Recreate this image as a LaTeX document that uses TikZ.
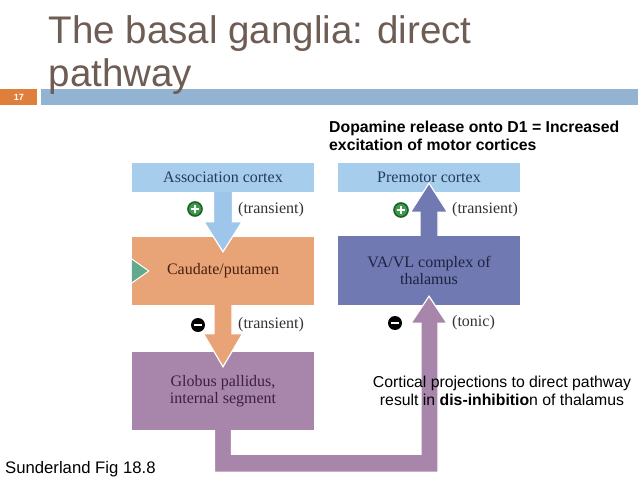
\documentclass[tikz,border=0pt]{standalone}
\usepackage{fontspec}
\newfontfamily\arial{Liberation Sans}
\newfontfamily\serifdia{Liberation Serif}
\usetikzlibrary{calc}
\definecolor{titlecol}{HTML}{6E5D54}
\definecolor{barblue}{HTML}{92B4D2}
\definecolor{barorange}{HTML}{E07E3C}
\definecolor{boxblue}{HTML}{A6CDEB}
\definecolor{arrblue}{HTML}{9DC6EA}
\definecolor{boxorange}{HTML}{E8A476}
\definecolor{boxslate}{HTML}{7179B2}
\definecolor{boxpurple}{HTML}{A885AA}
\definecolor{triteal}{HTML}{62A98D}
\definecolor{txtnavy}{HTML}{263A5C}
\definecolor{txtbrown}{HTML}{4A1E10}
\definecolor{txtslate}{HTML}{1C2240}
\definecolor{txtpurple}{HTML}{3B1F45}
\definecolor{plusfill}{HTML}{3E9A4A}
\definecolor{plusring}{HTML}{1F5F28}
\begin{document}
\begin{tikzpicture}[x=1pt,y=-1pt,
  box/.style={rectangle, inner sep=0pt, minimum width=182pt, align=center,
    font=\serifdia\fontsize{16}{16.5}\selectfont},
  lbl/.style={inner sep=0pt, anchor=west, text=black!80, font=\serifdia\fontsize{16}{16.5}\selectfont},
  arrowbody/.style={draw=white, line width=1.2pt, line join=miter},
  plusicon/.style={circle, fill=plusfill, draw=plusring, line width=1.6pt, minimum size=14pt, inner sep=0pt},
  minusicon/.style={circle, fill=black, minimum size=14pt, inner sep=0pt},
  sans/.style={inner sep=0pt, font=\arial\fontsize{15.8}{18}\selectfont}
]
\useasboundingbox (0,0) rectangle (638,479);
\fill[white] (0,0) rectangle (638,479);

% header
\fill[barblue] (41,89) rectangle (638,105);
\fill[barorange] (0,89) rectangle (37,105);
\node[inner sep=0pt, text=white, font=\arial\bfseries\fontsize{9}{10}\selectfont] (num) at (19,97.5) {17};
\node[inner sep=0pt, anchor=base west, text=titlecol, font=\arial\fontsize{38.5}{43}\selectfont] (t1) at (48.5,43) {The basal ganglia: direct};
\node[inner sep=0pt, anchor=base west, text=titlecol, font=\arial\fontsize{38.5}{43}\selectfont] (t2) at (48.5,86) {pathway};

\node[sans, anchor=base west, font=\arial\bfseries\fontsize{15.8}{18}\selectfont] (sub1) at (329,132.5) {Dopamine release onto D1 = Increased};
\node[sans, anchor=base west, font=\arial\bfseries\fontsize{15.8}{18}\selectfont] (sub2) at (329,150.5) {excitation of motor cortices};

% boxes
\node[box, fill=boxblue, minimum height=29pt, text=txtnavy] (assoc) at (223,177.5) {Association cortex};
\node[box, fill=boxblue, minimum height=29pt, text=txtnavy] (premot) at (429,177.5) {Premotor cortex};
\node[box, fill=boxorange, minimum height=68pt, text=txtbrown] (caud) at (223,271) {Caudate/putamen};
\node[box, fill=boxslate, minimum height=69pt, text=txtslate] (vavl) at (429,270.5) {VA/VL complex of\\thalamus};
\node[box, fill=boxpurple, minimum height=78pt, text=txtpurple] (gp) at (223,391) {Globus pallidus,\\internal segment};

% green triangle at caudate
\filldraw[fill=triteal, draw=white, line width=1pt] ($(caud.west)+(0,-12)$) -- ($(caud.west)+(17,0)$) -- ($(caud.west)+(0,12)$);

% arrow association -> caudate
\path[fill=arrblue, arrowbody]
  ($(assoc.south)+(-9.5,0)$) -- ($(caud.north)+(-9.5,-15)$) -- ($(caud.north)+(-19,-15)$)
  -- ($(caud.north)+(0,15)$) -- ($(caud.north)+(19,-15)$) -- ($(caud.north)+(9.5,-15)$)
  -- ($(assoc.south)+(9.5,0)$);
% arrow caudate -> GP
\path[fill=boxorange, arrowbody]
  ($(caud.south)+(-9,0)$) -- ($(gp.north)+(-9,-18)$) -- ($(gp.north)+(-19.5,-18)$)
  -- ($(gp.north)+(0,15)$) -- ($(gp.north)+(19.5,-18)$) -- ($(gp.north)+(9,-18)$)
  -- ($(caud.south)+(9,0)$);
% arrow VA/VL -> premotor
\path[fill=boxslate, arrowbody]
  ($(vavl.north)+(-9,0)$) -- ($(premot.south)+(-9,20)$) -- ($(premot.south)+(-18.5,20)$)
  -- ($(premot.south)+(0,-9)$) -- ($(premot.south)+(18.5,20)$) -- ($(premot.south)+(9,20)$)
  -- ($(vavl.north)+(9,0)$);
% arrow GP -> VA/VL (looping under)
\coordinate (loopL) at ($(gp.south)+(0,33)$);
\path[fill=boxpurple, arrowbody]
  ($(gp.south)+(-8.5,0)$) -- ($(loopL)+(-8.5,9)$) -- ($(loopL -| vavl.south)+(9,9)$)
  -- ($(vavl.south)+(9,18)$) -- ($(vavl.south)+(18,18)$) -- ($(vavl.south)+(0,-9)$)
  -- ($(vavl.south)+(-18,18)$) -- ($(vavl.south)+(-8,18)$) -- ($(loopL -| vavl.south)+(-8,-9)$)
  -- ($(loopL)+(8.5,-9)$) -- ($(gp.south)+(8.5,0)$);

% icons
\node[plusicon] (pl1) at (195,209) {};
\draw[white, line width=2.2pt] ($(pl1)+(-3.6,0)$) -- ($(pl1)+(3.6,0)$) ($(pl1)+(0,-3.6)$) -- ($(pl1)+(0,3.6)$);
\node[plusicon] (pl2) at (401,210) {};
\draw[white, line width=2.2pt] ($(pl2)+(-3.6,0)$) -- ($(pl2)+(3.6,0)$) ($(pl2)+(0,-3.6)$) -- ($(pl2)+(0,3.6)$);
\node[minusicon] (mi1) at (198,325) {};
\draw[white, line width=2.6pt] ($(mi1)+(-4,0)$) -- ($(mi1)+(4,0)$);
\node[minusicon] (mi2) at (395,323) {};
\draw[white, line width=2.6pt] ($(mi2)+(-4,0)$) -- ($(mi2)+(4,0)$);

\node[lbl] (tr1) at (238,210) {(transient)};
\node[lbl] (tr2) at (452,210) {(transient)};
\node[lbl] (tr3) at (238,325) {(transient)};
\node[lbl] (ton) at (452,323) {(tonic)};

% notes
\node[sans, align=center] (note) at (502,391) {Cortical projections to direct pathway\\result in \textbf{dis-inhibitio}n of thalamus};
\node[sans, anchor=base west, font=\arial\fontsize{16.7}{18}\selectfont] (src) at (5,473) {Sunderland Fig 18.8};
\end{tikzpicture}
\end{document}
